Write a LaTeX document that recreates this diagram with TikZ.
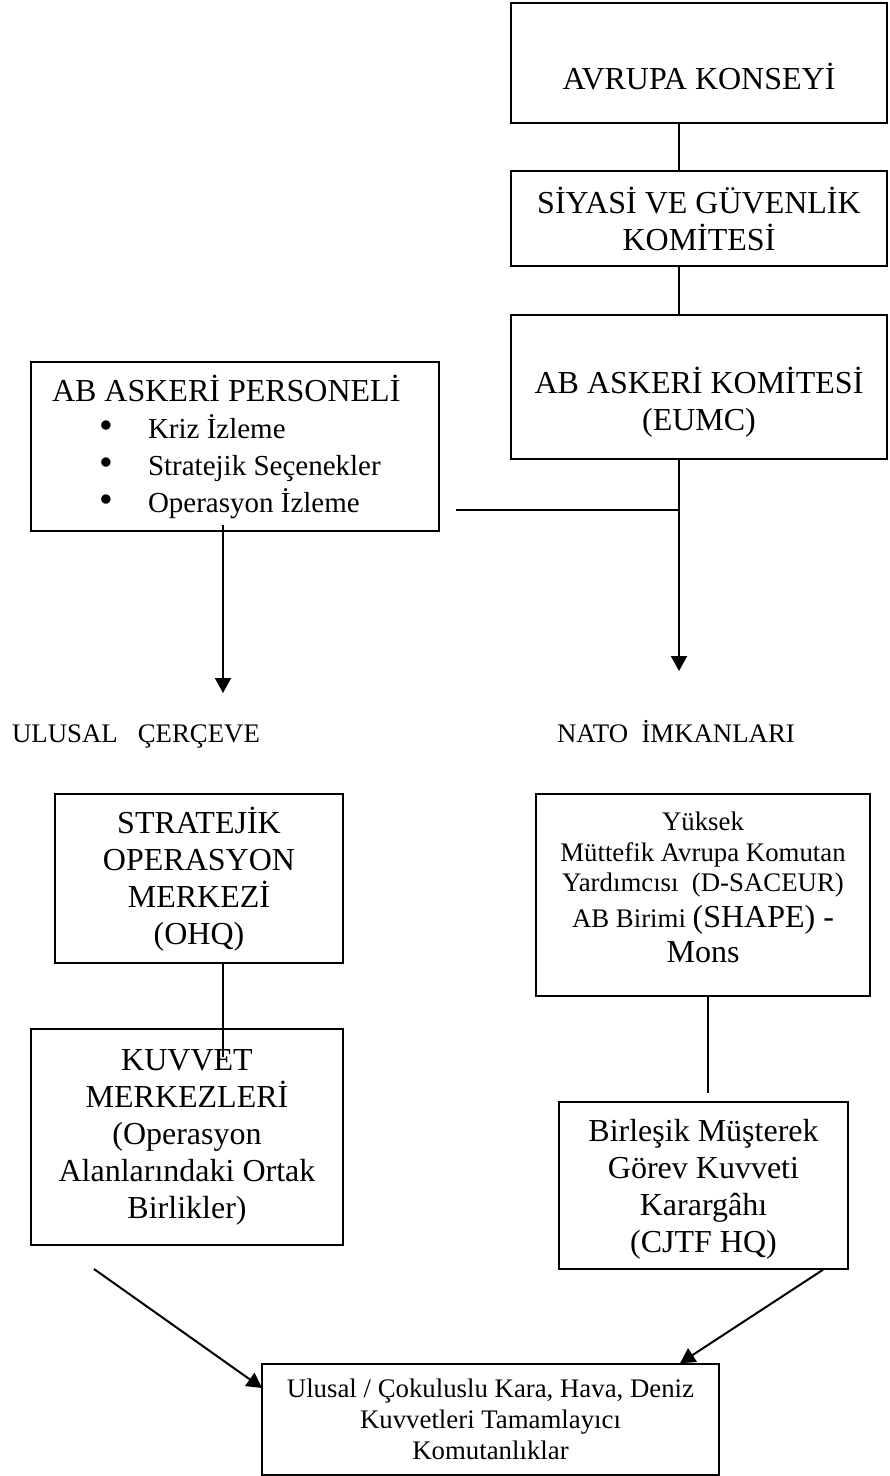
\documentclass[tikz,border=0pt]{standalone}
\usepackage{fontspec}
\setmainfont{Liberation Serif}
\usetikzlibrary{arrows.meta}

\begin{document}
\begin{tikzpicture}[x=0.5pt,y=-0.5pt]
    \tikzstyle{every node}+=[inner sep=0pt]
    \tikzstyle{box}=[draw, line width=0.75pt, align=center, font=\fontsize{16}{18.5}\selectfont]
    \tikzstyle{small}=[font=\fontsize{13.4}{15.4}\selectfont]
    \tikzstyle{link}=[line width=0.7pt]
    \tikzstyle{arrow}=[line width=1pt, -{Triangle[length=7.5pt,width=8pt]}]
    \useasboundingbox (0,0) rectangle (889,1476);
    \coordinate (spine) at (679,0);
    \node [box, minimum width=188pt, minimum height=60pt] (council) at (699,63) {\raisebox{-6.7pt}[\height][\depth]{AVRUPA KONSEYİ}};
    \node [box, minimum width=188pt, minimum height=47.5pt] (psc) at (699,218.5) {SİYASİ VE GÜVENLİK\\KOMİTESİ};
    \node [box, minimum width=188pt, minimum height=72pt] (eumc) at (699,387) {\raisebox{-8.5pt}[\height][\depth]{\begin{tabular}{@{}c@{}}AB ASKERİ KOMİTESİ\\(EUMC)\end{tabular}}};
    \node [box, align=left, minimum width=204pt, minimum height=84.5pt] (staff) at (235,446.5) {\makebox[183pt][l]{AB ASKERİ PERSONELİ}\\
        {\fontsize{14.5}{18.5}\selectfont\makebox[48pt][l]{\hspace{24pt}\scalebox{1.35}{\textbullet}}Kriz İzleme}\\
        {\fontsize{14.5}{18.5}\selectfont\makebox[48pt][l]{\hspace{24pt}\scalebox{1.35}{\textbullet}}Stratejik Seçenekler}\\
        {\fontsize{14.5}{18.5}\selectfont\makebox[48pt][l]{\hspace{24pt}\scalebox{1.35}{\textbullet}}Operasyon İzleme}};
    \node [small, anchor=base] (natlcap) at (136,742) {ULUSAL~~ ÇERÇEVE};
    \node [small, anchor=base] (natocap) at (676,742) {NATO~ İMKANLARI};
    \node [box, minimum width=144pt, minimum height=84.5pt] (ohq) at (199,878.5) {\raisebox{-1.5pt}[\height][\depth]{\begin{tabular}{@{}c@{}}STRATEJİK\\OPERASYON\\MERKEZİ\\(OHQ)\end{tabular}}};
    \node [box, minimum width=156pt, minimum height=108pt] (force) at (187,1137) {KUVVET\\MERKEZLERİ\\(Operasyon\\Alanlarındaki Ortak\\Birlikler)};
    \node [box, small, minimum width=167pt, minimum height=101pt] (shape) at (703,895) {\raisebox{2.5pt}[\height][\depth]{\begin{tabular}{@{}c@{}}Yüksek\\Müttefik Avrupa Komutan\\Yardımcısı~ (D-SACEUR)\\[2pt]AB Birimi {\fontsize{16}{18.5}\selectfont(SHAPE) -}\\[2pt]{\fontsize{16}{18.5}\selectfont Mons}\end{tabular}}};
    \node [box, minimum width=144.5pt, minimum height=83.5pt] (cjtf) at (703.5,1185.5) {\raisebox{-2pt}[\height][\depth]{\begin{tabular}{@{}c@{}}Birleşik Müşterek\\Görev Kuvveti\\Karargâhı\\(CJTF HQ)\end{tabular}}};
    \node [box, small, minimum width=228.5pt, minimum height=55.5pt] (comp) at (490.5,1419.5) {Ulusal / Çokuluslu Kara, Hava, Deniz\\Kuvvetleri Tamamlayıcı\\Komutanlıklar};
    \coordinate (armL) at (456,510);
    \coordinate (tipR) at (679,671);
    \coordinate (stemL) at (223,525);
    \coordinate (tipL) at (223,693);
    \coordinate (ohqEnd) at (223,1057);
    \coordinate (shapeEnd) at (708,1093);
    \coordinate (tailL) at (94,1269);
    \coordinate (headL) at (262,1388);
    \coordinate (tailR) at (823,0);
    \coordinate (headR) at (680,0);
    \draw [link] (council.south -| spine) -- (psc.north -| spine);
    \draw [link] (psc.south -| spine) -- (eumc.north -| spine);
    \draw [arrow] (eumc.south -| spine) -- (tipR);
    \draw [line width=1pt] (armL) -- (armL -| spine);
    \draw [arrow] (stemL) -- (tipL);
    \draw [link] (ohq.south -| ohqEnd) -- (ohqEnd);
    \draw [link] (shape.south -| shapeEnd) -- (shapeEnd);
    \draw [arrow] (tailL) -- (headL);
    \draw [arrow] (cjtf.south -| tailR) -- (comp.north -| headR);
\end{tikzpicture}
\end{document}
